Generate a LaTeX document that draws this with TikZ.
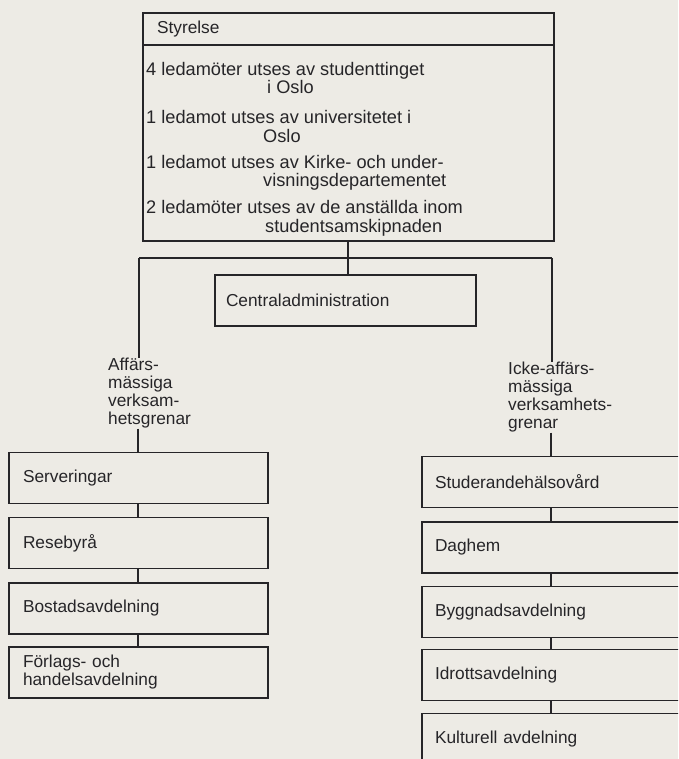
\documentclass[tikz,border=0pt]{standalone}
\usepackage{fontspec}
\setmainfont{Liberation Sans}
\definecolor{paper}{HTML}{EDEBE5}
\definecolor{ink}{HTML}{262528}
\begin{document}
\begin{tikzpicture}[x=1pt, y=-1pt,
  every node/.style={font=\fontsize{17.3}{18}\selectfont, text=ink, inner sep=0pt},
  frame/.style={draw=ink, line width=1.3pt, rectangle},
  link/.style={draw=ink, line width=1.3pt},
  line/.style={anchor=base west, font=\fontsize{18.2}{19}\selectfont},
  lbox/.style={frame, minimum width=259pt, minimum height=51pt,
               text width=231pt, align=left},
  rbox/.style={frame, minimum width=278pt, minimum height=51pt,
               text width=252pt, align=left},
  branch/.style={anchor=north west, align=left}
]
\fill[paper] (0,0) rectangle (678,759);
\useasboundingbox (0,0) rectangle (678,759);
\clip (0,0) rectangle (678,759);

% board
\node[frame, minimum width=411pt, minimum height=32pt, text width=383pt, align=left]
  (head) at (348.5,29) {Styrelse};
\node[frame, minimum width=411pt, minimum height=196pt] (body) at (348.5,143) {};
\node[line] (l1) at (146,76)  {4 ledamöter utses av studenttinget};
\node[line] (l2) at (267,94)  {i Oslo};
\node[line] (l3) at (146,124) {1 ledamot utses av universitetet i};
\node[line] (l4) at (263,143) {Oslo};
\node[line] (l5) at (146,169) {1 ledamot utses av Kirke- och under-};
\node[line] (l6) at (263,187) {visningsdepartementet};
\node[line] (l7) at (146,214) {2 ledamöter utses av de anställda inom};
\node[line] (l8) at (265,233) {studentsamskipnaden};

% central administration
\node[frame, minimum width=261pt, minimum height=51pt, text width=239pt, align=left]
  (central) at (345.5,300.5) {Centraladministration};

% branch headings
\node[branch] (affars) at (108,358) {Affärs-\\mässiga\\verksam-\\hetsgrenar};
\node[branch] (icke) at (508,362) {Icke-affärs-\\mässiga\\verksamhets-\\grenar};

% commercial branches
\node[lbox] (serv) at (138.5,478)   {Serveringar};
\node[lbox] (rese) at (138.5,543)   {Resebyrå};
\node[lbox] (bost) at (138.5,608.5) {Bostadsavdelning};
\node[lbox] (forl) at (138.5,672.5)  {Förlags- och\\handelsavdelning};

% non-commercial branches
\node[rbox] (stud) at (561,482)   {Studerandehälsovård};
\node[rbox] (dagh) at (561,547.5) {Daghem};
\node[rbox] (bygg) at (561,612)   {Byggnadsavdelning};
\node[rbox] (idro) at (561,675)   {Idrottsavdelning};
\node[rbox] (kult) at (561,739)   {Kulturell avdelning};

% connectors
\coordinate (hub) at (348,258);
\coordinate (lcorner) at (139,258);
\coordinate (rcorner) at (552,258);
\coordinate (lspine) at (138,0);
\coordinate (rspine) at (551,0);

\draw[link] (body.south -| hub) -- (central.north -| hub);
\draw[link] (lcorner) -- (rcorner);
\draw[link] (lcorner) -- (affars.north -| lcorner);
\draw[link] (rcorner) -- (icke.north -| rcorner);
\draw[link] (affars.south -| lspine) -- (serv.north -| lspine);
\draw[link] (icke.south -| rspine) -- (stud.north -| rspine);

\draw[link] (serv.south -| lspine) -- (rese.north -| lspine);
\draw[link] (rese.south -| lspine) -- (bost.north -| lspine);
\draw[link] (bost.south -| lspine) -- (forl.north -| lspine);

\draw[link] (stud.south -| rspine) -- (dagh.north -| rspine);
\draw[link] (dagh.south -| rspine) -- (bygg.north -| rspine);
\draw[link] (bygg.south -| rspine) -- (idro.north -| rspine);
\draw[link] (idro.south -| rspine) -- (kult.north -| rspine);
\end{tikzpicture}
\end{document}
